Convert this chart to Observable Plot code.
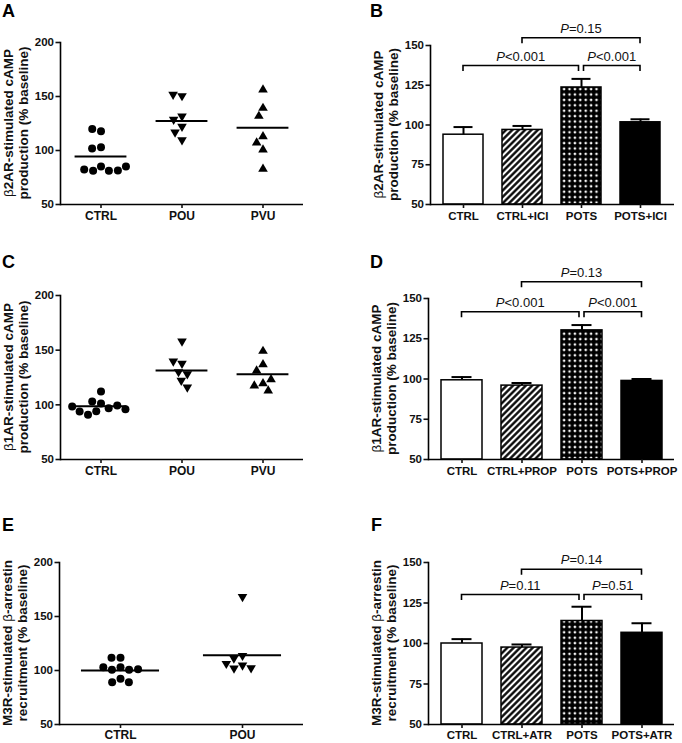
<!DOCTYPE html>
<html><head><meta charset="utf-8">
<script src="https://cdn.jsdelivr.net/npm/d3@7"></script>
<script src="https://cdn.jsdelivr.net/npm/@observablehq/plot@0.6"></script>
<style>
body{margin:0;background:#fff;}
#wrap{position:relative;width:682px;height:743px;overflow:hidden;font-family:"Liberation Sans",Arial,sans-serif;}
</style></head><body>
<svg width="0" height="0" style="position:absolute">
<defs>
<pattern id="hatch" patternUnits="userSpaceOnUse" width="4.5" height="4.5" patternTransform="rotate(45)">
<rect width="4.5" height="4.5" fill="white"/>
<line x1="2.25" y1="-1" x2="2.25" y2="5.5" stroke="black" stroke-width="2.3"/>
</pattern>
<pattern id="cross" patternUnits="userSpaceOnUse" width="5.4" height="5.4">
<rect width="5.4" height="5.4" fill="black"/>
<path d="M2.7,1.1L4.3,2.7L2.7,4.3L1.1,2.7Z" fill="white"/>
</pattern>
</defs></svg>
<div id="wrap"></div>
<script>
// ---------- data ----------
const catsScatter3 = ["CTRL", "POU", "PVU"];
const catsScatter2 = ["CTRL", "POU"];

const aCtrl = [117.9, 119.8, 103.1, 101.9, 85.2, 81.2, 81.2, 81.5, 82.4, 85.2];
const aPou  = [149.4, 150.6, 130.6, 127.5, 121.0, 115.7, 108.6];
const aPvu  = [157.4, 140.4, 133.0, 114.2, 108.3, 101.9, 84.0];
const meanA = [94.4, 127.2, 121.0];

const cCtrl = [112.2, 101.2, 103.0, 96.9, 94.2, 99.4, 90.9, 93.9, 96.0, 98.5];
const cPou  = [157.0, 136.6, 138.7, 129.0, 127.1, 121.0, 114.9];
const cPvu  = [150.3, 138.1, 132.3, 120.7, 124.4, 118.6, 114.0];
const meanC = [98.8, 131.4, 128.0];

const eCtrl = [111.7, 111.7, 103.1, 100.6, 100.6, 101.2, 103.1, 92.3, 89.2, 89.2];
const ePou  = [167.1, 112.6, 110.2, 103.7, 100.9, 101.2, 105.2];
const meanE = [100.0, 114.2];

const scatterTicks = [50, 100, 150, 200];
const barTicks = [50, 75, 100, 125, 150];

const catsB = ["CTRL", "CTRL+ICI", "POTS", "POTS+ICI"];
const meanB = [93.9, 96.9, 123.6, 101.7];
const semB  = [4.8, 2.5, 5.4, 1.9];
const bracketsB = [["CTRL", "POTS", 137.1, "<0.001"], ["POTS", "POTS+ICI", 137.1, "<0.001"], ["CTRL+ICI", "POTS+ICI", 154.6, "=0.15"]];

const catsD = ["CTRL", "CTRL+PROP", "POTS", "POTS+PROP"];
const meanD = [99.2, 95.9, 130.2, 98.8];
const semD  = [2.0, 1.6, 3.3, 1.2];
const bracketsD = [["CTRL", "POTS", 141.5, "<0.001"], ["POTS", "POTS+PROP", 141.5, "<0.001"], ["CTRL+PROP", "POTS+PROP", 160.1, "=0.13"]];

const catsF = ["CTRL", "CTRL+ATR", "POTS", "POTS+ATR"];
const meanF = [100.0, 97.5, 113.9, 106.6];
const semF  = [2.7, 1.9, 8.8, 5.9];
const bracketsF = [["CTRL", "POTS", 129.9, "=0.11"], ["POTS", "POTS+ATR", 129.9, "=0.51"], ["CTRL+ATR", "POTS+ATR", 145.5, "=0.14"]];

const titleB2 = ["β2AR-stimulated cAMP", "production (% baseline)"];
const titleB1 = ["β1AR-stimulated cAMP", "production (% baseline)"];
const titleM3 = ["M3R-stimulated β-arrestin", "recruitment (% baseline)"];

// ---------- styles ----------
const FONT = '"Liberation Sans", Arial, sans-serif';
const AX = 1.6;
const barFills = ["white", "url(#hatch)", "url(#cross)", "black"];
const symUp = {draw(ctx, size) { const r = Math.sqrt(size / Math.PI); ctx.moveTo(0, -1.05 * r); ctx.lineTo(1.2 * r, 1.0 * r); ctx.lineTo(-1.2 * r, 1.0 * r); ctx.closePath(); }};
const symDown = {draw(ctx, size) { const r = Math.sqrt(size / Math.PI); ctx.moveTo(0, 1.05 * r); ctx.lineTo(1.2 * r, -1.0 * r); ctx.lineTo(-1.2 * r, -1.0 * r); ctx.closePath(); }};
const symbols = [d3.symbolCircle, symDown, symUp];

const wrap = document.getElementById("wrap");

function decorate(svg, {left, top, letter, lx, ly, title, ml, mt, mb, height}) {
  const s = d3.select(svg).style("position", "absolute").style("left", left + "px").style("top", top + "px").style("overflow", "visible");
  s.append("text").attr("x", lx).attr("y", ly).attr("text-anchor", "start").attr("font-size", 18).attr("font-weight", "bold")
    .attr("font-family", FONT).attr("fill", "#000").text(letter);
  const cy = (mt + height - mb) / 2;
  const t = s.append("text").attr("transform", `translate(${ml - 44.5},${cy}) rotate(-90)`)
    .attr("text-anchor", "middle").attr("font-size", 13.5).attr("font-weight", "bold")
    .attr("font-family", FONT).attr("fill", "#111");
  title.forEach((line, i) => {
    const ts = t.append("tspan").attr("x", 0).attr("y", i === 0 ? -7.5 : 7.5).attr("dy", "0.35em");
    const parts = line.split("β");
    parts.forEach((p, j) => {
      if (j > 0) ts.append("tspan").attr("font-weight", "normal").text("β");
      if (p) ts.append("tspan").text(p);
    });
  });
  wrap.appendChild(svg);
}

function scatterPanel({cats, groups, means, title, letter, left, top, height, ml, mr, mt, mb, lx, ly, pad}) {
  const width = left === 0 ? 340 : 342;
  const band = (width - ml - mr) / cats.length;
  const ins = band * 0.18;
  const marks = [
    Plot.frame({anchor: "left", facetAnchor: "left", stroke: "black", strokeWidth: AX}),
    Plot.ruleY([scatterTicks[0]], {stroke: "black", strokeWidth: AX}),
    Plot.axisY({ticks: scatterTicks, tickSize: 4.5, tickPadding: 2, fontSize: 11.5, fontWeight: "bold", label: null, strokeWidth: AX}),
    Plot.axisFx({anchor: "bottom", tickSize: 4, tickPadding: pad, fontSize: 12, fontWeight: "bold", label: null, strokeWidth: AX}),
    Plot.tickY(cats.map((c, i) => ({cat: c, m: means[i]})), {fx: "cat", y: "m", stroke: "black", strokeWidth: 2, insetLeft: ins, insetRight: ins})
  ];
  cats.forEach((c, i) => {
    marks.push(Plot.dot(groups[i].map(v => ({cat: c, v})),
      Plot.dodgeX({anchor: "middle", padding: 1}, {fx: "cat", y: "v", r: 4, symbol: symbols[i], fill: "black", stroke: "none"})));
  });
  const svg = Plot.plot({
    width, height, marginLeft: ml, marginRight: mr, marginTop: mt, marginBottom: mb,
    style: {fontFamily: FONT, color: "#111", background: "transparent"},
    y: {domain: [scatterTicks[0], scatterTicks[scatterTicks.length - 1]]},
    fx: {domain: cats, padding: 0},
    marks
  });
  decorate(svg, {left, top, letter, lx, ly, title, ml, mt, mb, height});
}

function bracketMark(list) {
  return (index, scales) => {
    const {x, y} = scales;
    const bw = x.bandwidth ? x.bandwidth() : 0;
    const g = d3.create("svg:g");
    for (const b of list) {
      const [from, to, level, label] = b;
      let x1 = x(from) + bw / 2, x2 = x(to) + bw / 2;
      if (list.some(o => o !== b && o[2] === level && o[0] === to)) x2 -= 2.5;
      if (list.some(o => o !== b && o[2] === level && o[1] === from)) x1 += 2.5;
      const yy = y(level);
      g.append("path").attr("d", `M${x1},${yy + 5.5}V${yy}H${x2}V${yy + 5.5}`)
        .attr("fill", "none").attr("stroke", "black").attr("stroke-width", AX);
      const t = g.append("text").attr("x", (x1 + x2) / 2).attr("y", yy - 5)
        .attr("text-anchor", "middle").attr("font-size", 13).attr("font-family", FONT).attr("fill", "#111");
      t.append("tspan").attr("font-style", "italic").text("P");
      t.append("tspan").text(label);
    }
    return g.node();
  };
}

function barPanel({cats, means, sems, brackets, title, letter, left, top, height, ml, mr, mt, mb, lx, ly, pad}) {
  const data = cats.map((c, i) => ({cat: c, m: means[i], top: means[i] + sems[i]}));
  const base = barTicks[0];
  const svg = Plot.plot({
    width: 342, height, marginLeft: ml, marginRight: mr, marginTop: mt, marginBottom: mb,
    style: {fontFamily: FONT, color: "#111", background: "transparent"},
    x: {domain: cats, paddingInner: 0.32, paddingOuter: 0.2},
    y: {domain: [base, barTicks[barTicks.length - 1]]},
    color: {domain: cats, range: barFills},
    marks: [
      Plot.barY(data, {x: "cat", y1: base, y2: "m", fill: "cat", stroke: "black", strokeWidth: 1.5}),
      Plot.ruleX(data, {x: "cat", y1: "m", y2: "top", stroke: "black", strokeWidth: 2}),
      Plot.tickY(data, {x: "cat", y: "top", stroke: "black", strokeWidth: 2, insetLeft: 10.5, insetRight: 10.5}),
      Plot.frame({anchor: "left", stroke: "black", strokeWidth: AX}),
      Plot.ruleY([base], {stroke: "black", strokeWidth: AX}),
      Plot.axisY({ticks: barTicks, tickSize: 4.5, tickPadding: 2, fontSize: 11.5, fontWeight: "bold", label: null, strokeWidth: AX}),
      Plot.axisX({tickSize: 4, tickPadding: pad, fontSize: 11.5, fontWeight: "bold", label: null, strokeWidth: AX}),
      bracketMark(brackets)
    ]
  });
  decorate(svg, {left, top, letter, lx, ly, title, ml, mt, mb, height});
}

scatterPanel({cats: catsScatter3, groups: [aCtrl, aPou, aPvu], means: meanA, title: titleB2, letter: "A",
  left: 0, top: 0, height: 250, ml: 60, mr: 37, mt: 42, mb: 46, lx: 2, ly: 17, pad: 3});
barPanel({cats: catsB, means: meanB, sems: semB, brackets: bracketsB, title: titleB2, letter: "B",
  left: 340, top: 0, height: 250, ml: 90, mr: 8, mt: 45, mb: 46, lx: 30, ly: 17, pad: 3});
scatterPanel({cats: catsScatter3, groups: [cCtrl, cPou, cPvu], means: meanC, title: titleB1, letter: "C",
  left: 0, top: 250, height: 250, ml: 60, mr: 37, mt: 45, mb: 41, lx: 2, ly: 18, pad: 3});
barPanel({cats: catsD, means: meanD, sems: semD, brackets: bracketsD, title: titleB1, letter: "D",
  left: 340, top: 250, height: 250, ml: 88, mr: 8, mt: 48, mb: 41, lx: 30, ly: 18, pad: 3});
scatterPanel({cats: catsScatter2, groups: [eCtrl, ePou], means: meanE, title: titleM3, letter: "E",
  left: 0, top: 500, height: 243, ml: 59, mr: 37, mt: 62, mb: 19, lx: 2, ly: 31, pad: 2});
barPanel({cats: catsF, means: meanF, sems: semF, brackets: bracketsF, title: titleM3, letter: "F",
  left: 340, top: 500, height: 243, ml: 88, mr: 8, mt: 62, mb: 19, lx: 31, ly: 31, pad: 2});
</script>
</body></html>
